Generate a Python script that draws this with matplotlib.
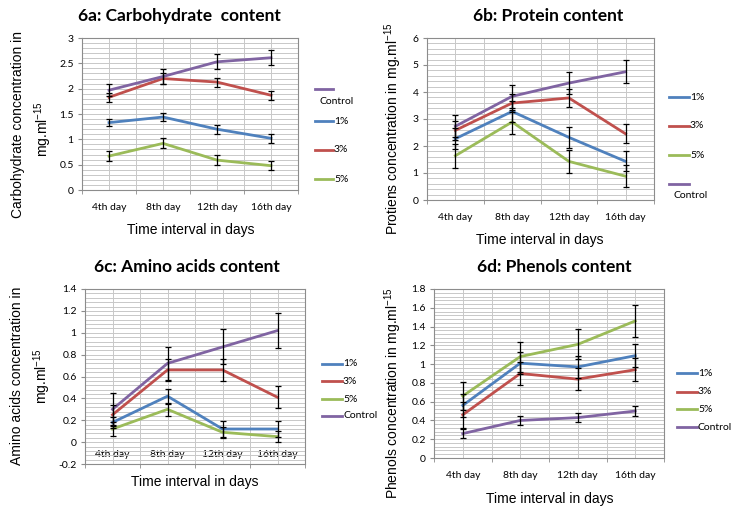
import numpy as np
import matplotlib.pyplot as plt
from matplotlib.lines import Line2D
from matplotlib.ticker import MultipleLocator

plt.rcParams['font.family'] = ['Lato', 'DejaVu Sans']
plt.rcParams['mathtext.default'] = 'regular'

W, H = 743, 511

days = ["4th day", "8th day", "12th day", "16th day"]
x = np.arange(1, 5)

blue, red, green, purple = "#4F81BD", "#C0504D", "#9BBB59", "#8064A2"

# 6a carbohydrate
carb_ctrl = [1.97, 2.24, 2.53, 2.61]
carb_ctrl_err = [0.12, 0.14, 0.15, 0.15]
carb_1 = [1.33, 1.44, 1.20, 1.02]
carb_1_err = [0.07, 0.08, 0.09, 0.09]
carb_3 = [1.83, 2.20, 2.13, 1.87]
carb_3_err = [0.09, 0.10, 0.09, 0.09]
carb_5 = [0.67, 0.92, 0.59, 0.48]
carb_5_err = [0.09, 0.10, 0.10, 0.09]

# 6b protein
prot_1 = [2.27, 3.28, 2.32, 1.43]
prot_1_err = [0.38, 0.40, 0.38, 0.37]
prot_3 = [2.58, 3.59, 3.78, 2.45]
prot_3_err = [0.35, 0.33, 0.33, 0.35]
prot_5 = [1.64, 2.89, 1.43, 0.88]
prot_5_err = [0.45, 0.43, 0.42, 0.41]
prot_ctrl = [2.73, 3.84, 4.33, 4.75]
prot_ctrl_err = [0.41, 0.43, 0.42, 0.43]

# 6c amino acids
amino_1 = [0.18, 0.42, 0.12, 0.12]
amino_1_err = [0.05, 0.07, 0.07, 0.07]
amino_3 = [0.25, 0.66, 0.66, 0.41]
amino_3_err = [0.09, 0.10, 0.10, 0.10]
amino_5 = [0.12, 0.30, 0.09, 0.05]
amino_5_err = [0.06, 0.06, 0.05, 0.05]
amino_ctrl = [0.30, 0.72, 0.87, 1.02]
amino_ctrl_err = [0.15, 0.15, 0.16, 0.16]

# 6d phenols
phen_1 = [0.56, 1.01, 0.97, 1.09]
phen_1_err = [0.12, 0.12, 0.12, 0.12]
phen_3 = [0.46, 0.90, 0.84, 0.94]
phen_3_err = [0.14, 0.12, 0.12, 0.12]
phen_5 = [0.66, 1.08, 1.21, 1.46]
phen_5_err = [0.15, 0.16, 0.16, 0.17]
phen_ctrl = [0.26, 0.40, 0.43, 0.50]
phen_ctrl_err = [0.05, 0.05, 0.05, 0.05]


def rect(x0, y0, x1, y1):
    return [x0 / W, 1 - y1 / H, (x1 - x0) / W, (y1 - y0) / H]


def ftext(xp, yp, s, **kw):
    fig.text(xp / W, 1 - yp / H, s, ha='center', va='center', **kw)


def setup(ax, lo, hi, major, minor, inside=False):
    ax.set_xlim(0.5, 4.5)
    ax.set_ylim(lo, hi)
    ax.set_xticks(x)
    ax.set_xticklabels(days)
    ax.xaxis.set_minor_locator(MultipleLocator(0.5))
    ax.yaxis.set_major_locator(MultipleLocator(major))
    ax.yaxis.set_minor_locator(MultipleLocator(minor))
    ax.grid(which='both', color='#C8C8C8', linewidth=0.7)
    ax.set_axisbelow(True)
    for s in ax.spines.values():
        s.set_color('#8C8C8C')
        s.set_linewidth(0.8)
    ax.tick_params(axis='x', which='major', length=0, labelsize=7.5,
                   pad=-10 if inside else 9)
    ax.tick_params(axis='x', which='minor', length=3, color='#8C8C8C')
    ax.tick_params(axis='y', which='major', length=3, color='#8C8C8C',
                   labelsize=7.5, pad=3)
    ax.tick_params(axis='y', which='minor', length=0)
    ax.yaxis.set_major_formatter(plt.FuncFormatter(lambda v, p: f"{v:g}"))


def series(ax, vals, errs, color):
    ax.plot(x, vals, color=color, linewidth=2, zorder=3)
    ax.errorbar(x, vals, yerr=errs, fmt='none', ecolor='black', elinewidth=0.9,
                capsize=2.5, capthick=0.9, zorder=4)


def legend(entries, x0, x1):
    for label, color, yl, yt in entries:
        fig.add_artist(Line2D([x0 / W, x1 / W], [1 - yl / H, 1 - yl / H],
                              color=color, linewidth=2,
                              transform=fig.transFigure))
        if yt == yl:
            fig.text((x1 + 1) / W, 1 - yt / H, label, ha='left', va='center',
                     fontsize=7.5)
        else:
            fig.text((x0 + 4) / W, 1 - yt / H, label, ha='left', va='center',
                     fontsize=7.5)


fig = plt.figure(figsize=(W / 100, H / 100), dpi=100)

# 6a
ax = fig.add_axes(rect(82, 38, 298, 190))
setup(ax, 0, 3, 0.5, 0.1)
series(ax, carb_1, carb_1_err, blue)
series(ax, carb_3, carb_3_err, red)
series(ax, carb_5, carb_5_err, green)
series(ax, carb_ctrl, carb_ctrl_err, purple)
ftext(179, 16, "6a: Carbohydrate  content", fontsize=12.5, fontweight='bold')
ftext(191, 230, "Time interval in days", fontsize=10, family='Liberation Sans')
ftext(18, 124, "Carbohydrate concentration in", fontsize=10,
      family='Liberation Sans', rotation=90)
ftext(43, 129, "mg.ml$^{-15}$", fontsize=10, family='Liberation Sans',
      rotation=90)
legend([("Control", purple, 89, 102), ("1%", blue, 121, 121),
        ("3%", red, 150, 150), ("5%", green, 179, 179)], 315, 333)

# 6b
ax = fig.add_axes(rect(427, 38, 654, 200))
setup(ax, 0, 6, 1, 0.2)
series(ax, prot_1, prot_1_err, blue)
series(ax, prot_3, prot_3_err, red)
series(ax, prot_5, prot_5_err, green)
series(ax, prot_ctrl, prot_ctrl_err, purple)
ftext(548, 16, "6b: Protein content", fontsize=12.5, fontweight='bold')
ftext(540, 240, "Time interval in days", fontsize=10, family='Liberation Sans')
ftext(393, 129, "Protiens concentration in mg.ml$^{-15}$", fontsize=10,
      family='Liberation Sans', rotation=90)
legend([("1%", blue, 97, 97), ("3%", red, 126, 126),
        ("5%", green, 155, 155), ("Control", purple, 184, 195)], 669, 689)

# 6c
ax = fig.add_axes(rect(85, 289, 305, 464))
setup(ax, -0.2, 1.4, 0.2, 0.04, inside=True)
series(ax, amino_1, amino_1_err, blue)
series(ax, amino_3, amino_3_err, red)
series(ax, amino_5, amino_5_err, green)
series(ax, amino_ctrl, amino_ctrl_err, purple)
ftext(187, 267, "6c: Amino acids content", fontsize=12.5, fontweight='bold')
ftext(195, 482, "Time interval in days", fontsize=10, family='Liberation Sans')
ftext(17, 376, "Amino acids concentration in", fontsize=10,
      family='Liberation Sans', rotation=90)
ftext(42, 376, "mg.ml$^{-15}$", fontsize=10, family='Liberation Sans',
      rotation=90)
legend([("1%", blue, 364, 364), ("3%", red, 381, 381),
        ("5%", green, 399, 399), ("Control", purple, 416, 416)], 322, 342)

# 6d
ax = fig.add_axes(rect(434, 289, 664, 458))
setup(ax, 0, 1.8, 0.2, 0.04)
series(ax, phen_1, phen_1_err, blue)
series(ax, phen_3, phen_3_err, red)
series(ax, phen_5, phen_5_err, green)
series(ax, phen_ctrl, phen_ctrl_err, purple)
ftext(554, 267, "6d: Phenols content", fontsize=12.5, fontweight='bold')
ftext(550, 499, "Time interval in days", fontsize=10, family='Liberation Sans')
ftext(393, 393, "Phenols concentration in mg.ml$^{-15}$", fontsize=10,
      family='Liberation Sans', rotation=90)
legend([("1%", blue, 373, 373), ("3%", red, 392, 392),
        ("5%", green, 409, 409), ("Control", purple, 427, 427)], 677, 697)

fig.savefig("out.png", dpi=100)
